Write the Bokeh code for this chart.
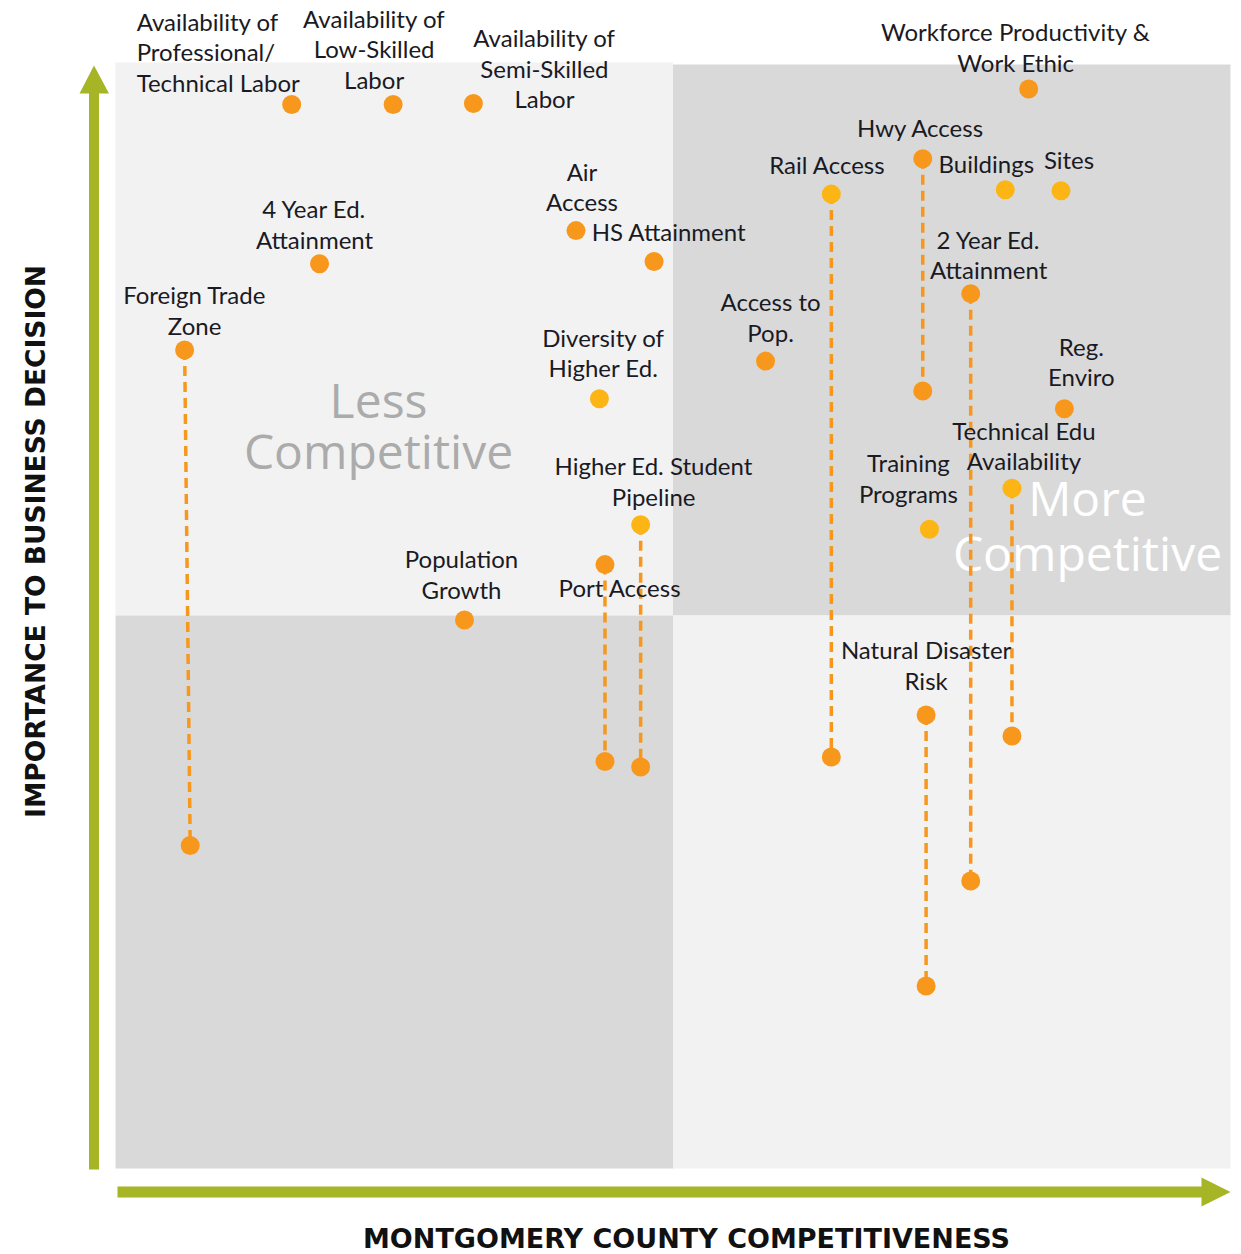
import math
from bokeh.plotting import figure
from bokeh.models import ColumnDataSource, Range1d
from bokeh.core.properties import value
from bokeh.embed import file_html
from bokeh.resources import INLINE

# ---------------- data ----------------
factors = [
    "Availability of\nProfessional/\nTechnical Labor",
    "Availability of\nLow-Skilled\nLabor",
    "Availability of\nSemi-Skilled\nLabor",
    "Workforce Productivity &\nWork Ethic",
    "Hwy Access",
    "Buildings",
    "Sites",
    "Rail Access",
    "4 Year Ed.\nAttainment",
    "Air\nAccess",
    "HS Attainment",
    "Foreign Trade\nZone",
    "Access to\nPop.",
    "Diversity of\nHigher Ed.",
    "2 Year Ed.\nAttainment",
    "Reg.\nEnviro",
    "Technical Edu\nAvailability",
    "Training\nPrograms",
    "Higher Ed. Student\nPipeline",
    "Port Access",
    "Population\nGrowth",
    "Natural Disaster\nRisk",
]
competitiveness = [1.58, 2.49, 3.21, 8.19, 7.24, 7.98, 8.48, 6.42, 1.83, 4.13, 4.83,
                   0.62, 5.83, 4.34, 7.67, 8.51, 8.04, 7.30, 4.71, 4.39, 3.13, 7.27]
importance = [9.62, 9.62, 9.63, 9.76, 9.13, 8.85, 8.84, 8.81, 8.18, 8.48, 8.20,
              7.40, 7.30, 6.96, 7.91, 6.87, 6.15, 5.78, 5.82, 5.46, 4.96, 4.10]
group = ["O", "O", "O", "O", "O", "Y", "Y", "Y", "O", "O", "O",
         "O", "O", "Y", "O", "O", "Y", "Y", "Y", "O", "O", "O"]

# factors with a range (upper point above -> lower point)
range_factor = ["Foreign Trade\nZone", "Rail Access", "Hwy Access", "2 Year Ed.\nAttainment",
                "Technical Edu\nAvailability", "Higher Ed. Student\nPipeline", "Port Access",
                "Natural Disaster\nRisk"]
range_low_comp = [0.67, 6.42, 7.24, 7.67, 8.04, 4.71, 4.39, 7.27]
range_low_imp = [2.92, 3.72, 7.03, 2.60, 3.91, 3.63, 3.68, 1.65]

x_title = "MONTGOMERY COUNTY COMPETITIVENESS"
y_title = "IMPORTANCE TO BUSINESS DECISION"
quad_low = "Less\nCompetitive"
quad_high = "More\nCompetitive"

# ---------------- layout helpers (page pixels -> data) ----------------
X0, XS = 115.0, 111.5
Y0, YS = 1168.0, 110.6
def dx(px):
    return (px - X0) / XS
def dy(py):
    return (Y0 - py) / YS

W, H = 1241, 1254
ORANGE = "#F7981D"
YELLOW = "#FDB515"
GREEN = "#A6B526"
LIGHT = "#F2F2F2"
DARK = "#D9D9D9"
TXT = "#1A1A24"

p = figure(width=W, height=H, output_backend="svg", toolbar_location=None,
           x_range=Range1d(dx(0), dx(W)), y_range=Range1d(dy(H), dy(0)),
           x_axis_type=None, y_axis_type=None, min_border=0)
p.outline_line_color = None
p.xgrid.visible = False
p.ygrid.visible = False
p.background_fill_color = "white"
p.border_fill_color = "white"

# quadrants
p.quad(left=[0, 5, 0, 5], right=[5, 10, 5, 10], bottom=[5, 5, 0, 0], top=[10, dy(64), 5, 5],
       fill_color=[LIGHT, DARK, DARK, LIGHT], line_color=None)

# arrows
p.quad(left=[dx(88.5)], right=[dx(98.5)], bottom=[dy(1169)], top=[dy(92)], fill_color=GREEN, line_color=None)
p.patch([dx(79), dx(108.5), dx(93.5)], [dy(93), dy(93), dy(65)], fill_color=GREEN, line_color=None)
p.quad(left=[dx(117)], right=[dx(1202)], bottom=[dy(1197)], top=[dy(1186)], fill_color=GREEN, line_color=None)
p.patch([dx(1201), dx(1201), dx(1230)], [dy(1177), dy(1206), dy(1191.5)], fill_color=GREEN, line_color=None)

# quadrant captions
for txt, cx, ys, col in [(quad_low, 378, [399, 450], "#ABABAB"), (quad_high, 1087, [497, 552], "white")]:
    for line, yy in zip(txt.split("\n"), ys):
        p.text(x=[dx(cx)], y=[dy(yy)], text=[line], text_align="center", text_baseline="middle",
               text_font=value("Open Sans"), text_font_size="48px", text_color=col)

# axis titles
p.text(x=[dx(686)], y=[dy(1238)], text=[x_title], text_align="center", text_baseline="middle",
       text_font=value("DejaVu Sans"), text_font_style="bold", text_font_size="27px", text_color="#111111")
p.text(x=[dx(35)], y=[dy(541)], text=[y_title], angle=math.pi / 2, text_align="center", text_baseline="middle",
       text_font=value("DejaVu Sans"), text_font_style="bold", text_font_size="26.5px", text_color="#111111")

# dashed ranges
idx = {f: i for i, f in enumerate(factors)}
seg = ColumnDataSource(dict(
    x0=[competitiveness[idx[f]] for f in range_factor],
    y0=[importance[idx[f]] for f in range_factor],
    x1=range_low_comp, y1=range_low_imp))
p.segment(x0="x0", y0="y0", x1="x1", y1="y1", source=seg, line_color=ORANGE,
          line_width=3.5, line_dash="10 6")
p.scatter(x=range_low_comp, y=range_low_imp, size=19, fill_color=ORANGE, line_color=None)

# main points
cols = [ORANGE if g == "O" else YELLOW for g in group]
p.scatter(x=competitiveness, y=importance, size=19, fill_color=cols, line_color=None)

# label placement: (block-center dx, dy in px, align)
label_pos = {
    factors[0]: (-155, -53, "left"),
    factors[1]: (-19, -56, "center"),
    factors[2]: (71, -35, "center"),
    factors[3]: (-13, -42, "center"),
    factors[4]: (-2, -31, "center"),
    factors[5]: (-19, -26, "center"),
    factors[6]: (8, -31, "center"),
    factors[7]: (-4, -30, "center"),
    factors[8]: (-5, -40, "center"),
    factors[9]: (6, -44, "center"),
    factors[10]: (15, -30, "center"),
    factors[11]: (10, -40, "center"),
    factors[12]: (5, -44, "center"),
    factors[13]: (4, -46, "center"),
    factors[14]: (18, -39, "center"),
    factors[15]: (17, -47, "center"),
    factors[16]: (12, -43, "center"),
    factors[17]: (-21, -51, "center"),
    factors[18]: (13, -44, "center"),
    factors[19]: (15, 23, "center"),
    factors[20]: (-3, -46, "center"),
    factors[21]: (0, -50, "center"),
}
LH = 30.5
lx, ly, lxo, lyo, lt, la = [], [], [], [], [], []
for f, xv, yv in zip(factors, competitiveness, importance):
    ox, oy, al = label_pos[f]
    lines = f.split("\n")
    n = len(lines)
    for k, line in enumerate(lines):
        lx.append(xv); ly.append(yv)
        lxo.append(ox); lyo.append(oy + (k - (n - 1) / 2) * LH)
        lt.append(line); la.append(al)
lab = ColumnDataSource(dict(x=lx, y=ly, xo=lxo, yo=lyo, t=lt, a=la))
p.text(x="x", y="y", x_offset="xo", y_offset="yo", text="t", text_align="a", source=lab,
       text_baseline="middle", text_font=value("Lato"), text_font_size="24px", text_color=TXT)

open("out.html", "w").write(file_html(p, INLINE))
